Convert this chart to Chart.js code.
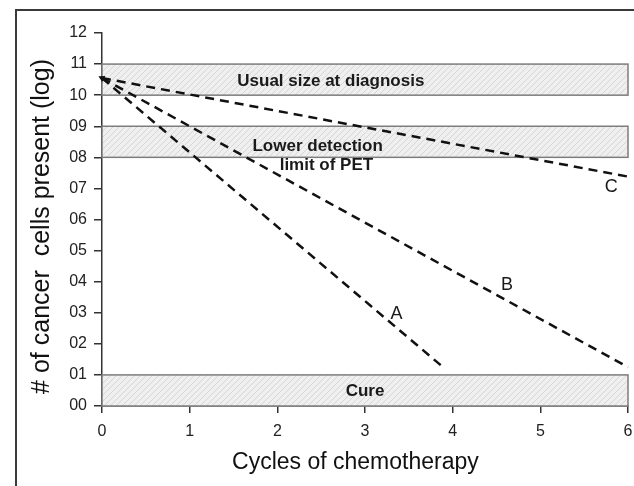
<!DOCTYPE html>
<html>
<head>
<meta charset="utf-8">
<script src="https://cdn.jsdelivr.net/npm/chart.js@4.4.1/dist/chart.umd.min.js"></script>
<style>
  html, body { margin: 0; padding: 0; overflow: hidden; background: #fff; }
  #frame { position: absolute; left: 15px; top: 9px; width: 700px; height: 600px; border: 2px solid #3a3a3a; box-sizing: border-box; }
  #wrap { position: absolute; left: 0; top: 0; width: 634px; height: 486px; }
</style>
</head>
<body>
<div id="frame"></div>
<div id="wrap"><canvas id="myChart" width="634" height="486"></canvas></div>
<script>
// three treatment courses, all starting from the same tumour size
const lineNames = ['A', 'B', 'C'];
const startCycle = 0;
const startLog = 10.55;
const endCycles = [3.89, 6, 6];
const endLogs = [1.25, 1.25, 7.38];
const lineLabelCycles = [3.36, 4.62, 5.81];
const lineLabelLogs = [2.96, 3.89, 7.06];

// shaded bands
const bandLows = [10, 8, 0];
const bandHighs = [11, 9, 1];
const bandTexts = ['Usual size at diagnosis', 'Lower detection', 'limit of PET', 'Cure'];
const bandTextCycles = [2.61, 2.46, 2.56, 3.0];
const bandTextLogs = [10.44, 8.35, 7.74, 0.465];

const xTicks = [0, 1, 2, 3, 4, 5, 6];
const yTickLabels = ['00', '01', '02', '03', '04', '05', '06', '07', '08', '09', '10', '11', '12'];

const fontFam = "'Liberation Sans', Arial, sans-serif";

// diagonal hatch for the bands
function makeHatch() {
    var c = document.createElement('canvas');
    c.width = 6; c.height = 6;
    var g = c.getContext('2d');
    g.fillStyle = '#efefef';
    g.fillRect(0, 0, 6, 6);
    g.strokeStyle = '#d6d6d6';
    g.lineWidth = 1;
    g.beginPath();
    g.moveTo(0, 6); g.lineTo(6, 0);
    g.moveTo(-1, 1); g.lineTo(1, -1);
    g.moveTo(5, 7); g.lineTo(7, 5);
    g.stroke();
    return g.createPattern(c, 'repeat');
}

const bandsPlugin = {
    id: 'bands',
    beforeDatasetsDraw(chart) {
        const ctx = chart.ctx;
        const x = chart.scales.x, y = chart.scales.y;
        const hatch = makeHatch();
        ctx.save();
        for (let i = 0; i < bandLows.length; i++) {
            const left = x.getPixelForValue(xTicks[0]);
            const right = x.getPixelForValue(xTicks[xTicks.length - 1]);
            const top = y.getPixelForValue(bandHighs[i]);
            const bottom = y.getPixelForValue(bandLows[i]);
            ctx.fillStyle = hatch;
            ctx.fillRect(left, top, right - left, bottom - top);
            ctx.strokeStyle = '#7d7d7d';
            ctx.lineWidth = 1.5;
            ctx.strokeRect(left, top, right - left, bottom - top);
        }
        ctx.restore();
    },
    afterDatasetsDraw(chart) {
        const ctx = chart.ctx;
        const x = chart.scales.x, y = chart.scales.y;
        ctx.save();
        ctx.textAlign = 'center';
        ctx.textBaseline = 'middle';
        ctx.fillStyle = '#1a1a1a';
        ctx.font = 'bold 17px ' + fontFam;
        for (let i = 0; i < bandTexts.length; i++) {
            ctx.fillText(bandTexts[i], x.getPixelForValue(bandTextCycles[i]), y.getPixelForValue(bandTextLogs[i]));
        }
        ctx.font = '18px ' + fontFam;
        for (let i = 0; i < lineNames.length; i++) {
            ctx.fillText(lineNames[i], x.getPixelForValue(lineLabelCycles[i]), y.getPixelForValue(lineLabelLogs[i]));
        }
        ctx.restore();
    }
};

var datasets = lineNames.map(function (name, i) {
    return {
        label: name,
        data: [{x: startCycle, y: startLog}, {x: endCycles[i], y: endLogs[i]}],
        borderColor: '#111',
        borderWidth: 2.5,
        borderDash: [9, 6],
        // little arrow tip where the courses start
        pointRadius: name == 'C' ? [4, 0] : 0,
        pointStyle: 'triangle',
        pointRotation: -62,
        pointBackgroundColor: '#111',
        pointBorderWidth: 0,
        fill: false,
        tension: 0,
        clip: false
    };
});

var ctx = document.getElementById('myChart').getContext('2d');
var myChart = new Chart(ctx, {
    type: 'line',
    data: { datasets: datasets },
    plugins: [bandsPlugin],
    options: {
        responsive: false,
        animation: false,
        layout: { padding: { top: 33, right: 6, left: 0, bottom: 0 } },
        plugins: { legend: { display: false }, tooltip: { enabled: false } },
        scales: {
            x: {
                type: 'linear',
                min: 0,
                max: 6,
                z: 1,
                afterFit: function (s) {
                    s.height = 80;
                    s.paddingLeft = 0;
                    s.paddingRight = 0;
                },
                afterBuildTicks: function (s) { s.ticks = xTicks.map(v => ({value: v})); },
                ticks: { stepSize: 1, padding: 9, color: '#222', font: { family: fontFam, size: 16 } },
                grid: { drawOnChartArea: false, tickLength: 7, color: '#333', lineWidth: 1.5 },
                border: { color: '#333', width: 1.5 },
                title: {
                    display: true,
                    text: 'Cycles of chemotherapy   ',
                    color: '#111',
                    font: { family: fontFam, size: 23 },
                    padding: { top: 0, bottom: 10 }
                }
            },
            y: {
                type: 'linear',
                min: 0,
                max: 12,
                z: 1,
                afterFit: function (s) { s.width = 102; },
                ticks: {
                    stepSize: 1,
                    padding: 7,
                    color: '#222',
                    font: { family: fontFam, size: 16 },
                    callback: function (v) { return yTickLabels[v]; }
                },
                grid: { drawOnChartArea: false, tickLength: 8, color: '#333', lineWidth: 1.5 },
                border: { color: '#333', width: 1.5 },
                title: {
                    display: true,
                    text: '# of cancer  cells present (log)  ',
                    color: '#111',
                    font: { family: fontFam, size: 25 },
                    padding: { top: 27, bottom: 0 }
                }
            }
        }
    }
});
</script>
</body>
</html>
